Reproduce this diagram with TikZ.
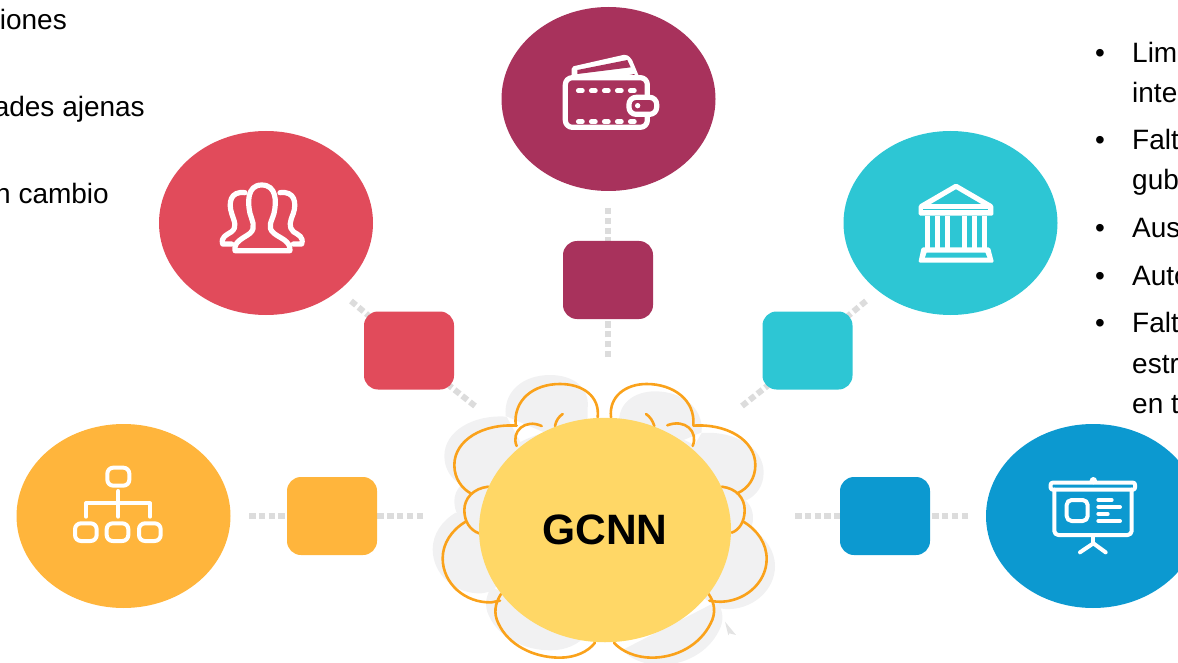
\documentclass[tikz,border=0pt]{standalone}
\usepackage{fontspec}
\setmainfont{Liberation Sans}
\usetikzlibrary{shapes.geometric}
\definecolor{cred}{HTML}{E14B5B}
\definecolor{cpur}{HTML}{A8325C}
\definecolor{ctea}{HTML}{2DC6D4}
\definecolor{cora}{HTML}{FFB53C}
\definecolor{cblu}{HTML}{0C99D0}
\definecolor{cyel}{HTML}{FFD766}
\definecolor{cline}{HTML}{FAA21B}
\definecolor{cshad}{HTML}{F1F1F2}
\definecolor{cdash}{HTML}{DCDCDC}
\tikzset{
  disc/.style={ellipse,minimum width=214pt,minimum height=184pt,inner sep=0pt,fill=#1},
  tile/.style={rectangle,rounded corners=14pt,minimum width=90pt,minimum height=78pt,inner sep=0pt,fill=#1},
  link/.style={draw=cdash,line width=6pt,dash pattern=on 6.5pt off 3.3pt},
  txt/.style={font=\fontsize{28}{28}\selectfont,inner sep=0pt,text=black},
  ico/.style={draw=white,line width=4pt,line join=round,line cap=round},
  icob/.style={draw=white,line width=5.2pt,line join=round,line cap=round},
  lobe/.style={draw=cline,line width=2.6pt,line cap=round},
  shad/.style={fill=cshad},
}
\newcommand{\lobeA}{(533,172) .. controls (540,110) and (490,72) .. (420,72) .. controls (340,72) and (280,120) .. (287,195)}
\newcommand{\lobeB}{(290,197) .. controls (190,190) and (103,240) .. (103,315) .. controls (103,355) and (125,385) .. (152,400)}
\newcommand{\lobeC}{(205,380) .. controls (160,385) and (133,415) .. (133,450) .. controls (133,485) and (150,510) .. (177,520)}
\newcommand{\lobeD}{(137,485) .. controls (95,510) and (68,550) .. (68,595) .. controls (68,670) and (135,730) .. (215,727) -- (240,722)}
\newcommand{\lobeE}{(243,702) .. controls (225,730) and (220,760) .. (235,790) .. controls (265,855) and (340,893) .. (420,893) .. controls (465,893) and (505,875) .. (525,848)}
\newcommand{\lobeF}{(573,172) .. controls (566,110) and (616,72) .. (680,72) .. controls (760,72) and (826,120) .. (820,195)}
\newcommand{\lobeG}{(820,197) .. controls (920,190) and (1006,240) .. (1006,315) .. controls (1006,355) and (985,385) .. (952,400)}
\newcommand{\lobeH}{(905,380) .. controls (950,385) and (974,415) .. (974,450) .. controls (974,485) and (958,510) .. (935,518)}
\newcommand{\lobeI}{(970,485) .. controls (1012,510) and (1040,550) .. (1040,597) .. controls (1040,670) and (970,730) .. (890,725) -- (868,722)}
\newcommand{\lobeJ}{(866,702) .. controls (885,730) and (888,760) .. (872,790) .. controls (840,855) and (770,893) .. (695,893) .. controls (650,893) and (605,875) .. (582,848)}
\begin{document}
\begin{tikzpicture}[x=1pt,y=-1pt]
\useasboundingbox (0,0) rectangle (1178,663);
\clip (0,0) rectangle (1178,663);
% left text
\node[txt,anchor=base east] (t1) at (67,29.3) {iones};
\node[txt,anchor=base east] (t2) at (145,116.7) {ades ajenas};
\node[txt,anchor=base east] (t3) at (109,204) {n cambio};
% right text
\foreach \n/\y/\s in {a/62.5/Lim,b/102.5/inte,c/150/Falt,d/190/gub,e/238/Aus,f/285/Auto,g/332/Falt,h/373/estr,i/413/en t}
  \node[txt,anchor=base west] (r\n) at (1132,\y) {\s};
\foreach \n/\y in {a/62.5,c/150,e/238,f/285,g/332}
  \node[txt,anchor=base west] (b\n) at (1095,\y) {•};
% cloud shadows
\begin{scope}[shift={(420,360)},scale=1/3]
  \fill[shad] (553,470) ellipse (420 and 280);
  \begin{scope}[shift={(-30,-27)}]
    \fill[shad] \lobeA -- (533,300) -- cycle;
    \fill[shad] \lobeB -- (400,400) -- cycle;
    \fill[shad] \lobeC -- cycle;
    \fill[shad] \lobeD -- (400,600) -- cycle;
  \end{scope}
  \begin{scope}[shift={(-28,-22)}]
    \fill[shad] \lobeE -- cycle;
  \end{scope}
  \begin{scope}[shift={(25,22)}]
    \fill[shad] \lobeF -- (573,300) -- cycle;
    \fill[shad] \lobeG -- (700,400) -- cycle;
    \fill[shad] \lobeH -- cycle;
    \fill[shad] \lobeI -- (700,600) -- cycle;
    \fill[shad] \lobeJ -- cycle;
  \end{scope}
  \fill[cdash!80!white] (915,785) -- (948,825) -- (928,820) -- (925,826) -- cycle;
  \draw[lobe] \lobeA; \draw[lobe] \lobeB; \draw[lobe] \lobeC; \draw[lobe] \lobeD; \draw[lobe] \lobeE;
  \draw[lobe] \lobeF; \draw[lobe] \lobeG; \draw[lobe] \lobeH; \draw[lobe] \lobeI; \draw[lobe] \lobeJ;
  \draw[lobe] (290,258) .. controls (272,215) and (315,175) .. (365,198);
  \draw[lobe] (405,198) .. controls (408,182) and (416,170) .. (428,162);
  \draw[lobe] (818,258) .. controls (836,215) and (795,175) .. (742,196);
  \draw[lobe] (703,198) .. controls (698,182) and (690,170) .. (678,162);
\end{scope}
% connector ends
\coordinate (o1) at (249,516); \coordinate (o2) at (423,516);
\coordinate (r1) at (351,301); \coordinate (r2) at (475,406);
\coordinate (r3) at (375,321); \coordinate (r4) at (441,379);
\coordinate (p1) at (608,208); \coordinate (p2) at (608,357);
\coordinate (t1e) at (866,301); \coordinate (t2e) at (742,406);
\coordinate (t3) at (842,321); \coordinate (t4) at (776,379);
\coordinate (u1) at (795,516); \coordinate (u2) at (968,516);
\coordinate (oc) at (332,516); \coordinate (bc) at (885,516);
\coordinate (pc) at (608,280);
\draw[link] (o1) -- (oc);
\draw[link] (o2) -- (oc);
\draw[link] (r1) -- (r3);
\draw[link] (r2) -- (r4);
\draw[link] (p1) -- (pc);
\draw[link] (p2) -- (pc);
\draw[link] (t1e) -- (t3);
\draw[link] (t2e) -- (t4);
\draw[link] (u1) -- (bc);
\draw[link] (u2) -- (bc);
% discs and tiles
\node[disc=cora] (cO) at (123.5,516) {};
\node[disc=cred] (cR) at (266,223) {};
\node[disc=cpur] (cP) at (608.5,99) {};
\node[disc=ctea] (cT) at (950.5,223) {};
\node[disc=cblu] (cB) at (1093,516) {};
\node[tile=cora] (bO) at (332,516) {};
\node[tile=cred] (bR) at (409,350.5) {};
\node[tile=cpur] (bP) at (608,280) {};
\node[tile=ctea] (bT) at (807.5,350.5) {};
\node[tile=cblu] (bB) at (885,516) {};
\node[ellipse,fill=cyel,minimum width=252pt,minimum height=224.5pt,inner sep=0pt,font=\fontsize{42.5}{42.5}\selectfont\bfseries] (core) at (605,530) {GCNN};
% wallet
\begin{scope}[shift={(540,40)},scale=1/3]
  \fill[white,rounded corners=2pt] (95,112) -- (95,80) -- (258,43) -- (274,55) -- (298,112) -- cycle;
  \fill[cpur] (112,90) -- (262,60) -- (272,82) -- (112,102) -- cycle;
  \fill[cpur] (190,122) -- (283,102) -- (290,122) -- cycle;
  \draw[icob,fill=cpur,rounded corners=7pt] (76,113) rectangle (322,262);
  \foreach \x in {115,154,193,232,271}{
    \draw[white,line width=4.8pt,line cap=round] (\x,152) -- (\x+12,152);
    \draw[white,line width=4.8pt,line cap=round] (\x,245) -- (\x+12,245);
  }
  \draw[icob,fill=cpur,rounded corners=7pt] (267,172) rectangle (350,223);
  \fill[white] (293,197) circle (8);
\end{scope}
% people
\begin{scope}[shift={(200,170)},scale=1/3]
  \draw[icob] (105,242) .. controls (100,215) and (130,205) .. (150,190) .. controls (170,172) and (155,150) .. (150,130) .. controls (143,100) and (140,45) .. (185,45) .. controls (230,45) and (230,95) .. (222,130) .. controls (215,155) and (200,172) .. (222,190) .. controls (240,205) and (272,212) .. (270,242) -- cycle;
  \draw[icob] (135,68) .. controls (90,62) and (85,100) .. (95,130) .. controls (103,155) and (112,170) .. (95,185) .. controls (80,195) and (62,200) .. (68,222) -- (95,222);
  \draw[icob] (240,68) .. controls (285,62) and (290,100) .. (280,130) .. controls (270,155) and (265,170) .. (280,185) .. controls (295,195) and (312,200) .. (305,222) -- (280,222);
\end{scope}
% bank
\begin{scope}[shift={(900,170)},scale=1/3]
  \fill[white,rounded corners=1.5pt] (168,40) -- (280,105) -- (280,137) -- (56,137) -- (56,105) -- cycle;
  \fill[ctea] (168,58) -- (243,102) -- (93,102) -- cycle;
  \draw[ctea,line width=.8pt] (70,119) -- (265,119);
  \foreach \x in {75,105,135,185,215,245} \fill[white] (\x,137) rectangle (\x+15,235);
  \fill[white,rounded corners=1.5pt] (65,232) -- (270,232) -- (282,278) -- (55,278) -- cycle;
  \fill[ctea] (80,248) -- (256,248) -- (262,263) -- (75,263) -- cycle;
\end{scope}
% org chart
\begin{scope}[shift={(60,455)},scale=1/3]
  \draw[ico,rounded corners=6pt] (142,38) rectangle (208,92);
  \draw[ico] (175,108) -- (175,185);
  \draw[ico] (78,185) -- (78,145) -- (270,145) -- (270,185);
  \foreach \x in {45,140,237} \draw[ico,rounded corners=6pt] (\x,205) rectangle (\x+65,258);
\end{scope}
% presentation
\begin{scope}[shift={(1035,465)},scale=1/3]
  \fill[white] (175,47) circle (11);
  \draw[ico,rounded corners=2pt] (47,53) rectangle (300,74);
  \draw[ico,rounded corners=4pt] (58,74) -- (58,210) -- (290,210) -- (290,74);
  \draw[ico,rounded corners=5pt] (95,105) rectangle (158,168);
  \draw[ico] (190,105) -- (230,105);
  \draw[ico] (190,126) -- (255,126);
  \draw[ico] (190,147) -- (218,147);
  \draw[ico] (190,168) -- (255,168);
  \draw[ico] (175,210) -- (175,235);
  \draw[ico] (135,262) -- (175,235) -- (212,262);
\end{scope}
\end{tikzpicture}
\end{document}
